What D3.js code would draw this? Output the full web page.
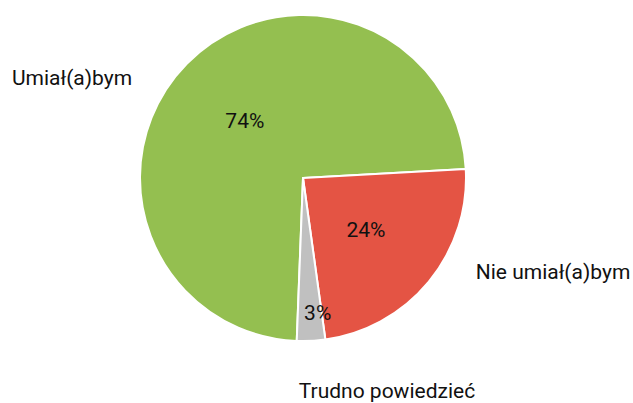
<!DOCTYPE html>
<html>
<head>
<meta charset="utf-8">
<script src="https://cdn.jsdelivr.net/npm/d3@7"></script>
<style>
	html, body { margin: 0; padding: 0; background: #fff; }
	text { font-family: Roboto, "Noto Sans", sans-serif; fill: #111; }
</style>
</head>
<body>
<svg id="chart" width="633" height="403"></svg>
<script>
// answers and their shares (%)
var categories = ["Umiał(a)bym", "Nie umiał(a)bym", "Trudno powiedzieć"];
var values = [73.5, 23.7, 2.8];
var percentLabels = ["74%", "24%", "3%"];
var colors = ["#94bf50", "#e45444", "#c0c0c0"];

var width = 633,
	height = 403,
	radius = 163,
	cx = 303,
	cy = 178;

// where the outer category labels sit, relative to the centre, in radii
var outerLabelPos = [[-1.417, -0.616], [1.534, 0.574], [0.515, 1.304]];

var svg = d3.select("#chart");
var g = svg.append("g").attr("transform", "translate(" + cx + "," + cy + ")");

var startAngle = 182.2 * Math.PI / 180;

var pie = d3.pie()
	.sort(null)
	.value(function(d) { return d.value; })
	.startAngle(startAngle)
	.endAngle(startAngle + 2 * Math.PI);

var data = categories.map(function(c, i)
{
	return { name: c, value: values[i], pct: percentLabels[i], color: colors[i], i: i };
});

var arcs = pie(data);

var arc = d3.arc().innerRadius(0).outerRadius(radius);
var midArc = d3.arc().innerRadius(radius * 0.5).outerRadius(radius * 0.5);
var smallArc = d3.arc().innerRadius(radius * 0.83).outerRadius(radius * 0.83);

g.selectAll(".slice")
	.data(arcs)
	.enter()
	.append("path")
		.attr("class", "slice")
		.attr("d", arc)
		.style("fill", function(d) { return d.data.color; })
		.style("stroke", "#fff")
		.style("stroke-width", 2)
		.style("stroke-linejoin", "round");

g.selectAll(".pct")
	.data(arcs)
	.enter()
	.append("text")
		.attr("class", "pct")
		.attr("transform", function(d)
		{
			var small = (d.endAngle - d.startAngle) < 0.3;
			var p = small ? smallArc.centroid(d) : midArc.centroid(d);
			if(small) p[0] += 8;
			return "translate(" + p + ")";
		})
		.attr("text-anchor", "middle")
		.attr("dy", "0.35em")
		.style("font-size", "21px")
		.text(function(d) { return d.data.pct; });

g.selectAll(".cat")
	.data(arcs)
	.enter()
	.append("text")
		.attr("class", "cat")
		.attr("x", function(d) { return outerLabelPos[d.data.i][0] * radius; })
		.attr("y", function(d) { return outerLabelPos[d.data.i][1] * radius; })
		.attr("text-anchor", "middle")
		.attr("dy", "0.35em")
		.style("font-size", "21px")
		.text(function(d) { return d.data.name; });
</script>
</body>
</html>
